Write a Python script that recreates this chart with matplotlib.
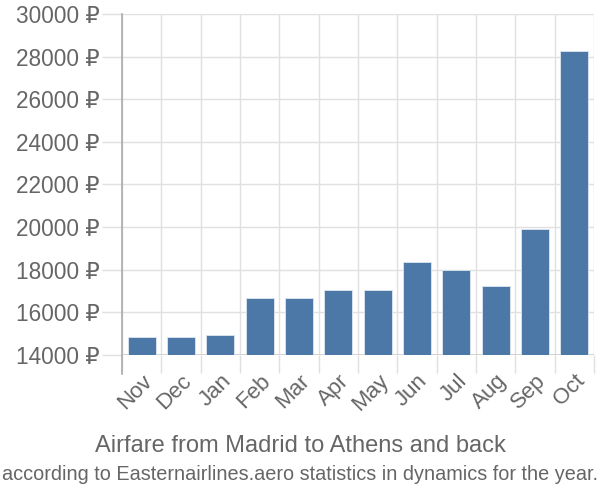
import numpy as np
import matplotlib
matplotlib.use("Agg")
import matplotlib.pyplot as plt
from matplotlib.lines import Line2D

months = ["Nov", "Dec", "Jan", "Feb", "Mar", "Apr", "May", "Jun", "Jul", "Aug", "Sep", "Oct"]
prices = [14850, 14850, 14940, 16680, 16680, 17050, 17050, 18350, 17980, 17240, 19900, 28270]
yticks = list(range(14000, 30001, 2000))

plt.rcParams["font.family"] = ["Liberation Sans", "DejaVu Sans"]
text_c = "#666666"
grid_c = "#e0e0e0"

fig = plt.figure(figsize=(6, 5), dpi=100)
ax = fig.add_axes([122 / 600, 1 - 355 / 500, (594 - 122) / 600, (355 - 14) / 500])

x = np.arange(len(months))
ax.bar(x, prices, width=0.72, color="#4c78a8", edgecolor="#dfe7f0", linewidth=0.6, zorder=3)

ax.set_xlim(-0.5, len(months) - 0.5)
ax.set_ylim(14000, 30000)

# tick lengths / pads are in points (0.72 pt per pixel at dpi 100)
ax.set_yticks(yticks)
ax.set_yticklabels([f"{v} ₽" for v in yticks], fontsize=16.3, color=text_c)
ax.tick_params(axis="y", length=14.4, width=1, color=grid_c, pad=1.5)

ax.set_xticks(x)
ax.set_xticklabels(months, rotation=45, ha="right", va="top", rotation_mode="anchor",
                   fontsize=16, color=text_c)
ax.tick_params(axis="x", which="major", length=0, pad=11)
ax.set_xticks(np.arange(-0.5, len(months)), minor=True)
ax.tick_params(axis="x", which="minor", length=13, width=1, color=grid_c)

ax.grid(axis="y", which="major", color=grid_c, lw=1, zorder=0)
ax.grid(axis="x", which="minor", color=grid_c, lw=1, zorder=0)

for s in ["top", "right", "bottom", "left"]:
    ax.spines[s].set_visible(False)
ax.axhline(14000, color="#cccccc", lw=1.2, zorder=2)
ax.add_line(Line2D([0, 0], [-0.055, 1], transform=ax.transAxes, color="#aaaaaa",
                   lw=1.2, clip_on=False, zorder=4))

fig.text(0.5, 1 - 446 / 500, "Airfare from Madrid to Athens and back", ha="center",
         va="center", fontsize=17, color=text_c)
fig.text(0.5, 1 - 475 / 500, "according to Easternairlines.aero statistics in dynamics for the year.",
         ha="center", va="center", fontsize=14.3, color=text_c)

fig.savefig("out.png", dpi=100)
